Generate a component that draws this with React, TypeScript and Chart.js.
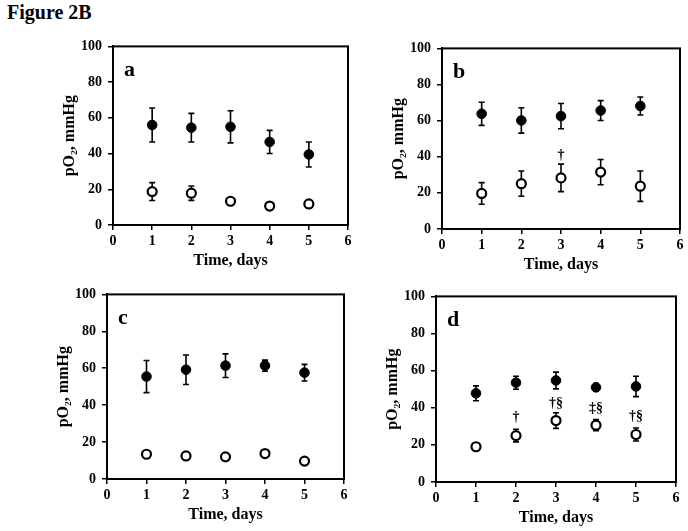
import React, { useEffect, useRef } from "react";
import { Chart, registerables } from "chart.js";

Chart.register(...registerables);

// ---------- data ----------
const days = [1, 2, 3, 4, 5];
const xTicks = [0, 1, 2, 3, 4, 5, 6];
const yTicks = [0, 20, 40, 60, 80, 100];
const xTitle = "Time, days";
const yTitle = "pO\u2082, mmHg";
const figureTitle = "Figure 2B";
const panelLetters = ["a", "b", "c", "d"];

const aFilled = [56, 54.5, 55, 46.5, 39.5];
const aFilledErr = [9.5, 8, 9, 6.5, 7];
const aOpen = [18.7, 17.8, 13.3, 10.6, 11.8];
const aOpenErr = [5, 4, 1, 0.5, 0.5];

const bFilled = [63.8, 60.1, 62.5, 65.6, 68.1];
const bFilledErr = [6.4, 7, 7, 5.5, 5];
const bOpen = [19.7, 25.1, 28.3, 31.5, 23.7];
const bOpenErr = [6, 7, 7.6, 7, 8.4];

const cFilled = [55.5, 59.2, 61.4, 61.4, 57.6];
const cFilledErr = [8.7, 8, 6.4, 3, 4.5];
const cOpen = [13.4, 12.5, 12.0, 13.8, 9.7];
const cOpenErr = [1, 1, 1, 1, 1];

const dFilled = [47.8, 53.5, 54.7, 51, 51.5];
const dFilledErr = [4, 3.5, 4.5, 2, 5.5];
const dOpen = [19, 25, 33.1, 30.6, 25.6];
const dOpenErr = [1.5, 3.4, 4.2, 3, 3.5];

const bMarkDays = [3];
const bMarkText = ["\u2020"];
const bMarkAt = [41];

const dMarkDays = [2, 3, 4, 5];
const dMarkText = ["\u2020", "\u2020\u00a7", "\u2021\u00a7", "\u2020\u00a7"];
const dMarkAt = [34.9, 42.2, 39.9, 35.4];

type Spec = {
  letter: string;
  filled: number[];
  filledErr: number[];
  open: number[];
  openErr: number[];
  markDays: number[];
  markText: string[];
  markAt: number[];
};

const specs: Spec[] = [
  { letter: panelLetters[0], filled: aFilled, filledErr: aFilledErr, open: aOpen, openErr: aOpenErr, markDays: [], markText: [], markAt: [] },
  { letter: panelLetters[1], filled: bFilled, filledErr: bFilledErr, open: bOpen, openErr: bOpenErr, markDays: bMarkDays, markText: bMarkText, markAt: bMarkAt },
  { letter: panelLetters[2], filled: cFilled, filledErr: cFilledErr, open: cOpen, openErr: cOpenErr, markDays: [], markText: [], markAt: [] },
  { letter: panelLetters[3], filled: dFilled, filledErr: dFilledErr, open: dOpen, openErr: dOpenErr, markDays: dMarkDays, markText: dMarkText, markAt: dMarkAt },
];

// ---------- layout ----------
const boxes = [
  { L: 113, T: 44, R: 348, B: 225 },
  { L: 442, T: 46, R: 680, B: 229 },
  { L: 107, T: 292, R: 344, B: 479 },
  { L: 436, T: 294, R: 676, B: 482 },
];
const WY = 53;
const HX = 45;
const PT = 12;
const PR = 10;
const FONT = "'Liberation Serif', 'Times New Roman', serif";

const decorPlugin = {
  id: "decor",
  beforeDatasetsDraw(chart: any, _args: any, opts: any) {
    const { ctx } = chart;
    const xs = chart.scales.x;
    const ys = chart.scales.y;
    const sets = [
      [opts.spec.filled, opts.spec.filledErr],
      [opts.spec.open, opts.spec.openErr],
    ];
    ctx.save();
    ctx.strokeStyle = "#000";
    ctx.lineWidth = 1.6;
    for (const [vals, errs] of sets) {
      vals.forEach((v: number, i: number) => {
        const x = xs.getPixelForValue(days[i]);
        const y0 = ys.getPixelForValue(v - errs[i]);
        const y1 = ys.getPixelForValue(v + errs[i]);
        ctx.beginPath();
        ctx.moveTo(x, y0);
        ctx.lineTo(x, y1);
        ctx.moveTo(x - 3, y0);
        ctx.lineTo(x + 3, y0);
        ctx.moveTo(x - 3, y1);
        ctx.lineTo(x + 3, y1);
        ctx.stroke();
      });
    }
    ctx.restore();
  },
  afterDraw(chart: any, _args: any, opts: any) {
    const { ctx, chartArea } = chart;
    const xs = chart.scales.x;
    const ys = chart.scales.y;
    ctx.save();
    ctx.strokeStyle = "#000";
    ctx.lineWidth = 2;
    ctx.strokeRect(chartArea.left, chartArea.top, chartArea.right - chartArea.left, chartArea.bottom - chartArea.top);
    ctx.fillStyle = "#000";
    ctx.font = `bold 22px ${FONT}`;
    ctx.textAlign = "left";
    ctx.textBaseline = "alphabetic";
    ctx.fillText(opts.spec.letter, chartArea.left + 11, chartArea.top + 30);
    ctx.font = `bold 14px ${FONT}`;
    ctx.textAlign = "center";
    ctx.textBaseline = "middle";
    opts.spec.markDays.forEach((d: number, i: number) => {
      ctx.fillText(opts.spec.markText[i], xs.getPixelForValue(d), ys.getPixelForValue(opts.spec.markAt[i]));
    });
    ctx.restore();
  },
};

function Panel({ spec, box }: { spec: Spec; box: { L: number; T: number; R: number; B: number } }) {
  const ref = useRef<HTMLCanvasElement>(null);
  const left = box.L - WY;
  const top = box.T - PT;
  const width = box.R - box.L + WY + PR;
  const height = box.B - box.T + PT + HX;

  useEffect(() => {
    const tickFont = { family: FONT, size: 14, weight: "bold" as const };
    const titleFont = { family: FONT, size: 16, weight: "bold" as const };
    const chart = new Chart(ref.current!, {
      type: "scatter",
      data: {
        datasets: [
          {
            data: days.map((d, i) => ({ x: d, y: spec.filled[i] })),
            backgroundColor: "#000",
            borderColor: "#000",
            borderWidth: 1,
            pointRadius: 4.8,
          },
          {
            data: days.map((d, i) => ({ x: d, y: spec.open[i] })),
            backgroundColor: "#fff",
            borderColor: "#000",
            borderWidth: 2.2,
            pointRadius: 4.5,
          },
        ],
      },
      options: {
        animation: false,
        responsive: false,
        events: [],
        layout: { padding: { left: 0, top: PT, right: PR, bottom: 0 } },
        plugins: {
          legend: { display: false },
          tooltip: { enabled: false },
          decor: { spec },
        } as any,
        scales: {
          x: {
            type: "linear",
            min: 0,
            max: 6,
            afterBuildTicks: (s: any) => {
              s.ticks = xTicks.map((v) => ({ value: v }));
            },
            afterFit: (s: any) => {
              s.height = HX;
            },
            grid: { drawOnChartArea: false, drawTicks: true, tickLength: 5, color: "#000", lineWidth: 1.5 },
            border: { display: true, color: "#000", width: 2 },
            ticks: { color: "#000", font: tickFont, padding: 3, maxRotation: 0 },
            title: { display: true, text: xTitle, color: "#000", font: titleFont, padding: { top: 0, bottom: 0 } },
          },
          y: {
            type: "linear",
            min: 0,
            max: 100,
            afterBuildTicks: (s: any) => {
              s.ticks = yTicks.map((v) => ({ value: v }));
            },
            afterFit: (s: any) => {
              s.width = WY;
            },
            grid: { drawOnChartArea: false, drawTicks: true, tickLength: 5, color: "#000", lineWidth: 1.5 },
            border: { display: true, color: "#000", width: 2 },
            ticks: { color: "#000", font: tickFont, padding: 6 },
            title: { display: true, text: yTitle, color: "#000", font: titleFont, padding: { top: 0, bottom: 0 } },
          },
        },
      } as any,
      plugins: [decorPlugin as any],
    });
    return () => chart.destroy();
  }, []);

  return (
    <canvas
      ref={ref}
      width={width}
      height={height}
      style={{ position: "absolute", left, top, width, height }}
    />
  );
}

export default function App() {
  return (
    <div
      style={{
        position: "fixed",
        left: 0,
        top: 0,
        width: 688,
        height: 531,
        background: "#fff",
        overflow: "hidden",
      }}
    >
      <div
        style={{
          position: "absolute",
          left: 7,
          top: 2,
          fontFamily: FONT,
          fontWeight: "bold",
          fontSize: 20,
          lineHeight: "20px",
          color: "#000",
          whiteSpace: "nowrap",
        }}
      >
        {figureTitle}
      </div>
      {specs.map((s, i) => (
        <Panel key={i} spec={s} box={boxes[i]} />
      ))}
    </div>
  );
}
